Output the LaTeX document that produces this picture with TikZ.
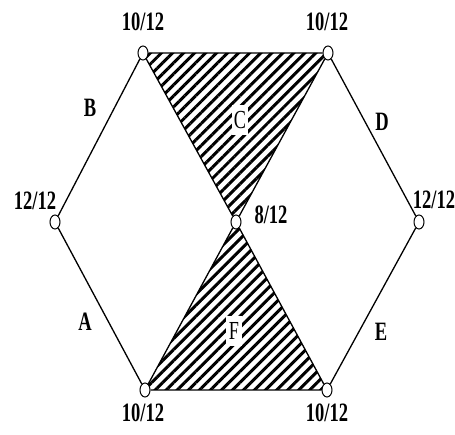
\documentclass[tikz,border=0pt]{standalone}
\usepackage{fontspec}
\setmainfont{Liberation Serif}
\newfontfamily\lblfont{Liberation Serif}[FakeStretch=0.7]
\usetikzlibrary{shapes.geometric, patterns.meta, backgrounds}

\begin{document}
\begin{tikzpicture}[x=1pt, y=1pt,
    vertex/.style={ellipse, draw, fill=white, line width=1pt,
                   minimum width=10pt, minimum height=14pt, inner sep=0pt},
    edge/.style={line width=1.3pt},
    lbl/.style={font=\fontsize{26.5}{28}\selectfont\lblfont\bfseries, inner sep=0pt},
    area/.style={font=\fontsize{26}{28}\selectfont\lblfont, fill=white,
                 minimum width=16pt, minimum height=30pt, inner sep=0pt},
    stripes/.style={pattern={Lines[angle=45, distance=7.8pt, line width=3pt]}},
  ]
    \useasboundingbox (0,0) rectangle (455,435);

    % vertices
    \node[vertex] (tl) at (143,382) {};
    \node[vertex] (tr) at (328,382) {};
    \node[vertex] (l)  at (55,213) {};
    \node[vertex] (r)  at (419,213) {};
    \node[vertex] (c)  at (236,213) {};
    \node[vertex] (bl) at (145,45) {};
    \node[vertex] (br) at (327,45) {};

    % hatched regions
    \begin{scope}[on background layer]
      \fill[stripes] (tl.center) -- (tr.center) -- (c.center) -- cycle;
      \fill[stripes] (bl.center) -- (br.center) -- (c.center) -- cycle;
      \draw[edge] (l) -- (tl) -- (tr) -- (r) -- (br) -- (bl) -- (l);
      \draw[edge] (tl) -- (c) -- (tr);
      \draw[edge] (bl) -- (c) -- (br);
    \end{scope}

    % vertex labels
    \node[lbl] (ntl) at (143,413) {10/12};
    \node[lbl] (ntr) at (327,413) {10/12};
    \node[lbl] (nl)  at (35,234) {12/12};
    \node[lbl] (nr)  at (434,235) {12/12};
    \node[lbl] (nc)  at (271,220) {8/12};
    \node[lbl] (nbl) at (143,22) {10/12};
    \node[lbl] (nbr) at (327,22) {10/12};

    % edge labels
    \node[lbl] (eb) at (90,327) {B};
    \node[lbl] (ed) at (382,313) {D};
    \node[lbl] (ea) at (85,113) {A};
    \node[lbl] (ee) at (381,103) {E};

    % area labels
    \node[area] (ac) at (240,315) {C};
    \node[area] (af) at (234,104) {F};
\end{tikzpicture}
\end{document}
